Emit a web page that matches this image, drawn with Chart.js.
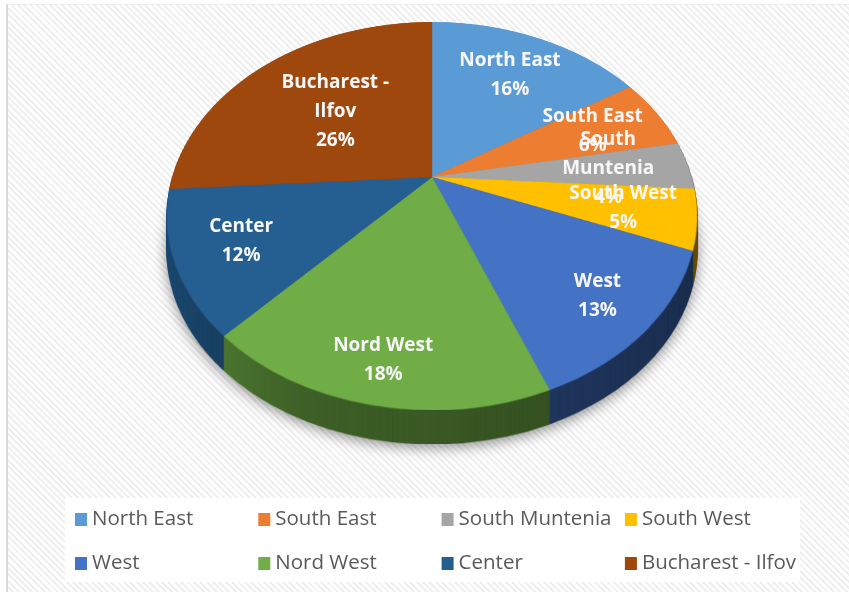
<!DOCTYPE html>
<html>
<head>
<meta charset="utf-8">
<script src="https://cdn.jsdelivr.net/npm/chart.js@4/dist/chart.umd.min.js"></script>
<style>
  html, body { margin: 0; padding: 0; background: #fff; }
  #wrap { position: relative; width: 849px; height: 592px; overflow: hidden; }
  #frame {
    position: absolute; left: 6px; top: 4px; right: 0; bottom: 0;
    border-left: 2px solid #d9d9d9; border-top: 1px solid #ececec;
    background: repeating-linear-gradient(45deg, #ffffff 0px, #ffffff 2.5px, #efefef 2.5px, #efefef 4.5px);
  }
  canvas { position: absolute; left: 0; top: 0; }
</style>
</head>
<body>
<div id="wrap">
  <div id="frame"></div>
  <canvas id="pie-chart" width="849" height="592"></canvas>
</div>
<script>
// regional shares, percent
const regions = ["North East", "South East", "South Muntenia", "South West", "West", "Nord West", "Center", "Bucharest - Ilfov"];
const shares = [16, 6, 4, 5, 13, 18, 12, 26];
const sliceColors = ["#5B9BD5", "#ED7D31", "#A5A5A5", "#FFC000", "#4472C4", "#70AD47", "#255E91", "#9E480E"];
// wrapped text for the in-slice labels
const labelLines = [["North East"], ["South East"], ["South", "Muntenia"], ["South West"], ["West"], ["Nord West"], ["Center"], ["Bucharest -", "Ilfov"]];

// tilted pie seen in perspective: hub on screen, far edge 155px above it,
// near edge 233px below, widest half-width 265px
const CX = 432, CY = 177;
const P = (233 - 155) / (233 + 155);       // perspective strength
const B = 155 * (1 + P);                   // vertical scale
const A = 265 * Math.sqrt(1 - P * P);      // horizontal scale
const DEPTH = 34;                          // side wall thickness
const LINE = 29;

// labels sit further out on the near side; tall wrapped labels on the
// far side are pulled in so they stay on the slice
function labelRadius(mid, nLines) {
  const s = Math.sin(mid);
  let r = 0.7 + 0.14 * Math.max(0, s);
  if (nLines > 2) r -= 0.22 * Math.max(0, -s);
  return r;
}

function project(u, v) {
  const w = 1 - P * v;
  return { x: CX + A * u / w, y: CY + B * v / w };
}

function shade(hex, k) {
  const n = parseInt(hex.slice(1), 16);
  const r = (n >> 16) & 255, g = (n >> 8) & 255, b = n & 255;
  return "rgb(" + Math.round(r * k) + "," + Math.round(g * k) + "," + Math.round(b * k) + ")";
}

// copies a flat pie image row by row onto the tilted plane
function warp(src, hub, R, g) {
  for (let Y = Math.floor(CY - 156); Y <= Math.ceil(CY + 234); Y++) {
    const t = (Y + 0.5 - CY) / B;
    const v = t / (1 + P * t);
    if (v < -1 || v > 1) continue;
    const k = A / (1 - P * v) / R;
    g.drawImage(src, 0, hub + v * R - 0.5, src.width, 1, CX - hub * k, Y, src.width * k, 1);
  }
}

const pie3d = {
  id: "pie3d",
  beforeDatasetsDraw(chart) {
    const ctx = chart.ctx;
    const arcs = chart.getDatasetMeta(0).data;
    const a0 = arcs[0], R = a0.outerRadius;
    const hub = Math.ceil(R) + 2;

    const flat = function () {
      const c = document.createElement("canvas");
      c.width = c.height = hub * 2;
      const g = c.getContext("2d");
      g.translate(hub - a0.x, hub - a0.y);
      return { c: c, g: g };
    };

    // top face, drawn by the arc elements themselves
    const face = flat();
    arcs.forEach(function (arc) { arc.draw(face.g); });

    // darker wedges for the side wall
    const side = flat();
    arcs.forEach(function (arc, i) {
      const grad = side.g.createLinearGradient(arc.x - R, 0, arc.x + R, 0);
      grad.addColorStop(0, shade(sliceColors[i], 0.8));
      grad.addColorStop(0.3, shade(sliceColors[i], 0.56));
      grad.addColorStop(1, shade(sliceColors[i], 0.4));
      side.g.beginPath();
      side.g.moveTo(arc.x, arc.y);
      side.g.arc(arc.x, arc.y, R + 0.5, arc.startAngle, arc.endAngle);
      side.g.closePath();
      side.g.fillStyle = grad;
      side.g.fill();
    });

    const wall = document.createElement("canvas");
    wall.width = chart.width; wall.height = chart.height;
    warp(side.c, hub, R, wall.getContext("2d"));

    ctx.save();
    ctx.shadowColor = "rgba(0,0,0,0.45)";
    ctx.shadowBlur = 14;
    ctx.shadowOffsetY = 3;
    ctx.drawImage(wall, 0, DEPTH);
    ctx.restore();
    for (let d = DEPTH - 1; d >= 1; d--) ctx.drawImage(wall, 0, d);

    warp(face.c, hub, R, ctx);
    return false;
  },
  afterDraw(chart) {
    const ctx = chart.ctx;
    const arcs = chart.getDatasetMeta(0).data;

    // slice labels
    ctx.save();
    ctx.font = "bold 19px 'Open Sans'";
    ctx.fillStyle = "#f7f7f7";
    ctx.textAlign = "center";
    ctx.textBaseline = "middle";
    arcs.forEach(function (arc, i) {
      const mid = (arc.startAngle + arc.endAngle) / 2;
      const lines = labelLines[i].concat(shares[i] + "%");
      const r = labelRadius(mid, lines.length);
      const p = project(Math.cos(mid) * r, Math.sin(mid) * r);
      const top = p.y - (lines.length - 1) * LINE / 2;
      lines.forEach(function (t, k) { ctx.fillText(t, p.x, top + k * LINE); });
    });
    ctx.restore();

    // legend, four columns in a white box
    ctx.save();
    ctx.fillStyle = "rgba(255,255,255,0.92)";
    ctx.fillRect(65, 498, 735, 84);
    ctx.font = "20.5px 'Open Sans'";
    ctx.textBaseline = "middle";
    regions.forEach(function (name, i) {
      const col = i % 4, row = Math.floor(i / 4);
      const x = 75 + col * 183.3, y = 519 + row * 44;
      ctx.fillStyle = sliceColors[i];
      ctx.fillRect(x, y - 6, 12, 13);
      ctx.fillStyle = "#595959";
      ctx.fillText(name, x + 17, y);
    });
    ctx.restore();
  }
};

document.addEventListener("DOMContentLoaded", function () {
  const ctx = document.getElementById("pie-chart").getContext("2d");
  new Chart(ctx, {
    type: "pie",
    data: {
      labels: regions,
      datasets: [{
        label: "Share (%)",
        data: shares,
        backgroundColor: sliceColors,
        borderColor: sliceColors,
        borderWidth: 0.5
      }]
    },
    options: {
      responsive: false,
      devicePixelRatio: 1,
      animation: false,
      events: [],
      plugins: {
        legend: { display: false },
        tooltip: { enabled: false }
      }
    },
    plugins: [pie3d]
  });
});
</script>
</body>
</html>
